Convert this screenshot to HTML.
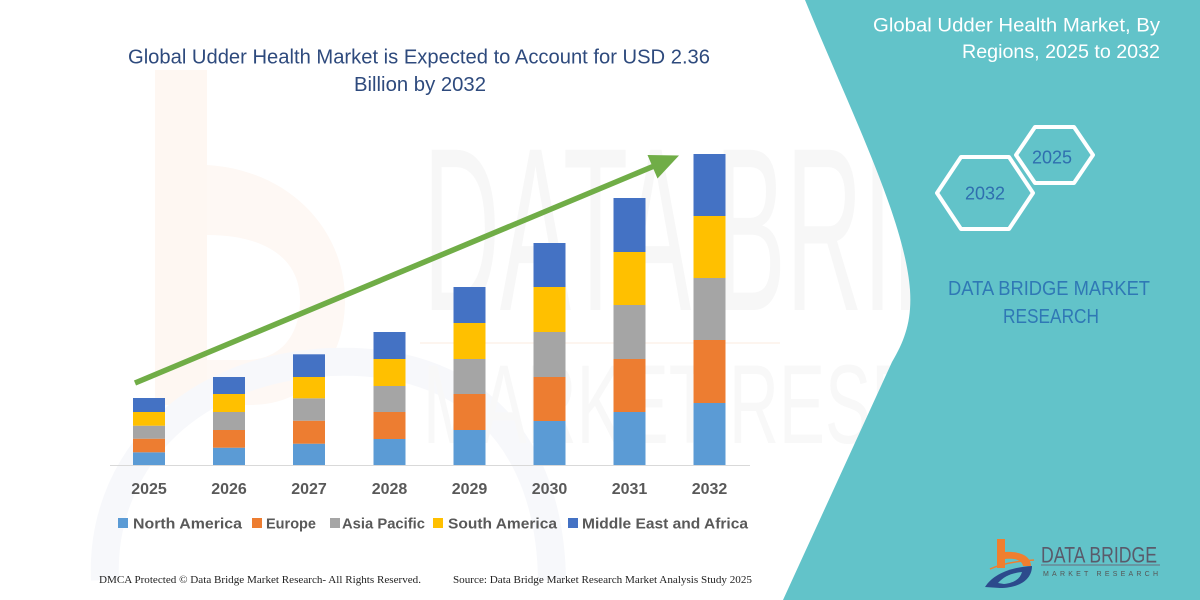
<!DOCTYPE html>
<html>
<head>
<meta charset="utf-8">
<style>
html,body{margin:0;padding:0;background:#fff;width:1200px;height:600px;overflow:hidden;}
svg{display:block;position:absolute;left:0;top:0;}
</style>
</head>
<body>
<svg width="1200" height="600" viewBox="0 0 1200 600" xmlns="http://www.w3.org/2000/svg" font-family="'Liberation Sans', sans-serif">
  <rect width="1200" height="600" fill="#ffffff"/>

  <!-- faint watermarks -->
  <g>
    <rect x="155" y="70" width="52" height="335" fill="#FEF7F2"/>
    <path d="M207,165 C290,170 345,230 345,300 C345,360 310,405 250,405 L207,405 L207,360 L245,360 C285,360 300,330 300,300 C300,262 270,235 207,235 Z" fill="#FEF8F4"/>
    <path d="M105,580 C100,470 180,370 330,362 C470,356 550,440 552,580" fill="none" stroke="#F7F8FB" stroke-width="28"/>
    <text x="423" y="310" font-size="233" fill="#F7F7F7" textLength="700" lengthAdjust="spacingAndGlyphs">DATA BRIDGE</text>
    <text x="423" y="443" font-size="112" fill="#F8F8F8" textLength="690" lengthAdjust="spacingAndGlyphs">MARKET RESEARCH</text>
    <line x1="420" y1="343" x2="780" y2="343" stroke="#FDF5EF" stroke-width="2"/>
  </g>

  <!-- teal panel -->
  <path d="M805,0 C850,110 905,220 910,290 C912,320 905,340 892,362 L783,600 L1200,600 L1200,0 Z" fill="#62C3C9"/>

  <!-- main title -->
  <text x="128" y="63.5" font-size="20" fill="#2E4A7D" textLength="582" lengthAdjust="spacingAndGlyphs">Global Udder Health Market is Expected to Account for USD 2.36</text>
  <text x="354" y="91" font-size="20" fill="#2E4A7D" textLength="132" lengthAdjust="spacingAndGlyphs">Billion by 2032</text>

  <!-- axis -->
  <line x1="110" y1="465.5" x2="750" y2="465.5" stroke="#D9D9D9" stroke-width="1"/>

  <!-- bars -->
  <g>
    <rect x="133" y="452.3" width="32" height="12.7" fill="#5B9BD5"/>
    <rect x="133" y="438.7" width="32" height="13.6" fill="#ED7D31"/>
    <rect x="133" y="425.7" width="32" height="13" fill="#A5A5A5"/>
    <rect x="133" y="412" width="32" height="13.7" fill="#FFC000"/>
    <rect x="133" y="398" width="32" height="14" fill="#4472C4"/>

    <rect x="213" y="447.7" width="32" height="17.3" fill="#5B9BD5"/>
    <rect x="213" y="430" width="32" height="17.7" fill="#ED7D31"/>
    <rect x="213" y="412" width="32" height="18" fill="#A5A5A5"/>
    <rect x="213" y="394" width="32" height="18" fill="#FFC000"/>
    <rect x="213" y="377" width="32" height="17" fill="#4472C4"/>

    <rect x="293" y="443.7" width="32" height="21.3" fill="#5B9BD5"/>
    <rect x="293" y="420.7" width="32" height="23" fill="#ED7D31"/>
    <rect x="293" y="398.3" width="32" height="22.4" fill="#A5A5A5"/>
    <rect x="293" y="377" width="32" height="21.3" fill="#FFC000"/>
    <rect x="293" y="354.3" width="32" height="22.7" fill="#4472C4"/>

    <rect x="373.5" y="439" width="32" height="26" fill="#5B9BD5"/>
    <rect x="373.5" y="412" width="32" height="27" fill="#ED7D31"/>
    <rect x="373.5" y="386" width="32" height="26" fill="#A5A5A5"/>
    <rect x="373.5" y="359" width="32" height="27" fill="#FFC000"/>
    <rect x="373.5" y="332" width="32" height="27" fill="#4472C4"/>

    <rect x="453.5" y="430" width="32" height="35" fill="#5B9BD5"/>
    <rect x="453.5" y="394" width="32" height="36" fill="#ED7D31"/>
    <rect x="453.5" y="359" width="32" height="35" fill="#A5A5A5"/>
    <rect x="453.5" y="323" width="32" height="36" fill="#FFC000"/>
    <rect x="453.5" y="287" width="32" height="36" fill="#4472C4"/>

    <rect x="533.5" y="421" width="32" height="44" fill="#5B9BD5"/>
    <rect x="533.5" y="377" width="32" height="44" fill="#ED7D31"/>
    <rect x="533.5" y="332" width="32" height="45" fill="#A5A5A5"/>
    <rect x="533.5" y="287" width="32" height="45" fill="#FFC000"/>
    <rect x="533.5" y="243" width="32" height="44" fill="#4472C4"/>

    <rect x="613.5" y="412" width="32" height="53" fill="#5B9BD5"/>
    <rect x="613.5" y="359" width="32" height="53" fill="#ED7D31"/>
    <rect x="613.5" y="305" width="32" height="54" fill="#A5A5A5"/>
    <rect x="613.5" y="252" width="32" height="53" fill="#FFC000"/>
    <rect x="613.5" y="198" width="32" height="54" fill="#4472C4"/>

    <rect x="693.5" y="403" width="32" height="62" fill="#5B9BD5"/>
    <rect x="693.5" y="340" width="32" height="63" fill="#ED7D31"/>
    <rect x="693.5" y="278" width="32" height="62" fill="#A5A5A5"/>
    <rect x="693.5" y="216" width="32" height="62" fill="#FFC000"/>
    <rect x="693.5" y="154" width="32" height="62" fill="#4472C4"/>
  </g>

  <!-- arrow -->
  <line x1="135" y1="383" x2="655" y2="165.6" stroke="#70AD47" stroke-width="5.5"/>
  <polygon points="679,155.5 657.5,178.5 647.5,155" fill="#70AD47"/>

  <!-- year labels -->
  <g font-size="16" font-weight="bold" fill="#595959" text-anchor="middle">
    <text x="149" y="494">2025</text>
    <text x="229" y="494">2026</text>
    <text x="309" y="494">2027</text>
    <text x="389.5" y="494">2028</text>
    <text x="469.5" y="494">2029</text>
    <text x="549.5" y="494">2030</text>
    <text x="629.5" y="494">2031</text>
    <text x="709.5" y="494">2032</text>
  </g>

  <!-- legend -->
  <g font-size="15" font-weight="bold" fill="#595959">
    <rect x="118" y="518" width="10" height="10" fill="#5B9BD5"/>
    <text x="133" y="528.5" textLength="109" lengthAdjust="spacingAndGlyphs">North America</text>
    <rect x="252" y="518" width="10" height="10" fill="#ED7D31"/>
    <text x="266" y="528.5" textLength="50" lengthAdjust="spacingAndGlyphs">Europe</text>
    <rect x="330" y="518" width="10" height="10" fill="#A5A5A5"/>
    <text x="342" y="528.5" textLength="83" lengthAdjust="spacingAndGlyphs">Asia Pacific</text>
    <rect x="433" y="518" width="10" height="10" fill="#FFC000"/>
    <text x="448" y="528.5" textLength="109" lengthAdjust="spacingAndGlyphs">South America</text>
    <rect x="568" y="518" width="10" height="10" fill="#4472C4"/>
    <text x="582" y="528.5" textLength="166" lengthAdjust="spacingAndGlyphs">Middle East and Africa</text>
  </g>

  <!-- footer -->
  <g font-family="'Liberation Serif', serif" font-size="11" fill="#222">
    <text x="99" y="583" textLength="322" lengthAdjust="spacingAndGlyphs">DMCA Protected © Data Bridge Market Research-  All Rights Reserved.</text>
    <text x="453" y="583" textLength="299" lengthAdjust="spacingAndGlyphs">Source: Data Bridge Market Research  Market Analysis Study 2025</text>
  </g>

  <!-- right panel title -->
  <g font-size="19" fill="#ffffff">
    <text x="873" y="31.5" textLength="287" lengthAdjust="spacingAndGlyphs">Global Udder Health Market, By</text>
    <text x="962" y="58" textLength="198" lengthAdjust="spacingAndGlyphs">Regions, 2025 to 2032</text>
  </g>

  <!-- hexagons -->
  <polygon points="1016,155 1035,127 1074,127 1093,155 1074,183 1035,183" fill="none" stroke="#ffffff" stroke-width="4" stroke-linejoin="round"/>
  <polygon points="937,193 961,157 1009,157 1033,193 1009,229 961,229" fill="none" stroke="#ffffff" stroke-width="4" stroke-linejoin="round"/>
  <g font-size="18" fill="#2F6FAF" text-anchor="middle">
    <text x="1052" y="163.5">2025</text>
    <text x="985" y="199.5">2032</text>
  </g>

  <!-- DBMR text -->
  <g font-size="20" fill="#2F78B5">
    <text x="948" y="295" textLength="202" lengthAdjust="spacingAndGlyphs">DATA BRIDGE MARKET</text>
    <text x="1003" y="323" textLength="96" lengthAdjust="spacingAndGlyphs">RESEARCH</text>
  </g>

  <!-- logo -->
  <g>
    <path d="M997,539 L1005,539 L1005,552 C1020,551 1031,556 1031,566 L1023,566 C1022,560 1015,558 1005,559 L1005,568 L997,568 Z" fill="#F07F2F"/>
    <path d="M990,569 C1003,563 1018,561 1034,560" fill="none" stroke="#F07F2F" stroke-width="1.5"/>
    <path d="M985,587 C994,573 1013,567 1032,566 C1032,579 1020,588 1000,588 Z" fill="#2C4A8C"/>
    <path d="M998,583 C1004,576 1012,573 1022,572 C1020,579 1014,583 1004,584 Z" fill="#62C3C9"/>
    <text x="1041" y="562.5" font-size="22" fill="#5A5A6A" textLength="116" lengthAdjust="spacingAndGlyphs">DATA BRIDGE</text>
    <line x1="1041" y1="565" x2="1160" y2="565" stroke="#6B6B7B" stroke-width="1"/>
    <text x="1043" y="576" font-size="7" fill="#555" textLength="115" lengthAdjust="spacing">MARKET  RESEARCH</text>
  </g>
</svg>
</body>
</html>
